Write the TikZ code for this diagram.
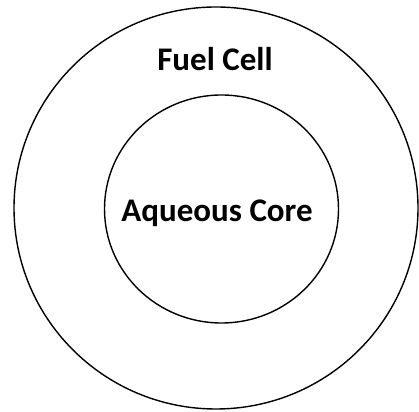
\documentclass[tikz,border=0pt]{standalone}
\usepackage{fontspec}
\setmainfont{Carlito}
\begin{document}
\begin{tikzpicture}[x=1pt,y=1pt,
  ring/.style={draw=black,line width=1.4pt},
  lbl/.style={font=\fontsize{33}{36}\selectfont\bfseries,anchor=base,inner sep=0pt}]
\useasboundingbox (0,0) rectangle (419,411);
\draw[ring] (216,203) ellipse [x radius=202, y radius=201];
\draw[ring] (221.5,202) ellipse [x radius=117, y radius=114];
\node[lbl] (fuel) at (215,340) {Fuel Cell};
\node[lbl] (core) at (217,189) {Aqueous Core};
\end{tikzpicture}
\end{document}
